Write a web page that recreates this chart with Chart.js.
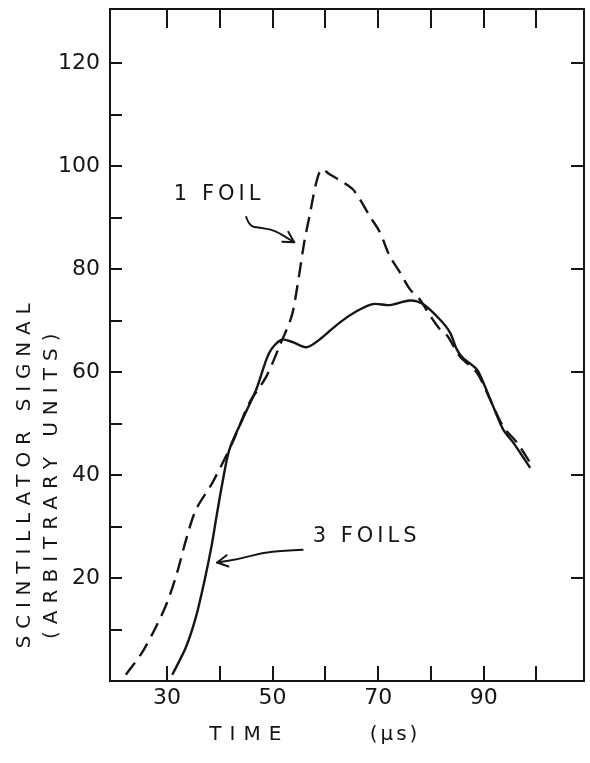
<!DOCTYPE html>
<html>
<head>
<meta charset="utf-8">
<title>Scintillator signal vs time</title>
<script src="https://cdn.jsdelivr.net/npm/chart.js@4.4.1/dist/chart.umd.min.js"></script>
<style>
  html, body { margin: 0; padding: 0; background: #fff; }
  #chart { display: block; }
</style>
</head>
<body>
<canvas id="chart" width="590" height="763"></canvas>
<script>
"use strict";

// 1 foil trace (dashed), time in microseconds
const oneFoilTime = [22.2, 25.2, 27.9, 30, 31.9, 33.6, 35.5, 38.6, 42.4, 45.6, 48.8, 51.3, 53.6, 54.7, 56, 57,
  58.3, 59.3, 60.8, 63.3, 65.2, 66.5, 68.4, 70.3, 72.2, 74.1, 76, 77.9, 79.5, 81.7, 83.2, 85.5, 88.7, 91.2, 93.7, 96.3, 98.8];
const oneFoilSignal = [1.2, 5.4, 10.5, 15.2, 21, 27.4, 33.3, 38.5, 46.3, 54, 59.1, 65, 70.8, 76.7, 85.2, 90.3,
  96.9, 99.4, 98.4, 96.9, 95.5, 93.6, 90.3, 87.2, 82.5, 79.4, 76.1, 74.1, 71.5, 68.3, 66.9, 63, 59.9, 54.7, 49.4, 46.3, 42.4];

// 3 foils trace (solid)
const threeFoilTime = [31, 33.6, 35.5, 37, 38.4, 39.5, 40.5, 41.8, 44.3, 46.9, 49.4, 51.7, 53.8, 56.4, 58.9, 62.7,
  65.9, 69, 72.2, 76, 78.5, 81.7, 83.6, 84.9, 86, 88.7, 89.9, 91.8, 93.7, 95.6, 98.8];
const threeFoilSignal = [1.2, 6.6, 12.5, 19, 26, 32.7, 38.5, 44.9, 50.8, 56.6, 63.8, 66.3, 65.8, 64.8, 66.3, 69.6,
  71.8, 73.2, 73, 73.9, 73.2, 70.2, 67.7, 64.4, 62.8, 60.5, 58, 53.3, 48.8, 46.3, 41.4];

const timeLabels = [30, 50, 70, 90];
const signalLabels = [20, 40, 60, 80, 100, 120];
const rightTicks = [20, 40, 60, 80, 100, 120];

const INK = "#151515";
const FONT = "'DejaVu Sans', sans-serif";

function toPoints(xs, ys) {
  return xs.map((x, i) => ({ x: x, y: ys[i] }));
}

// fixed box sizes, and no extra room for half-labels at the ends
function fixBox(w, h) {
  return s => {
    if (w !== null) s.width = w;
    if (h !== null) s.height = h;
    s.paddingTop = s.paddingBottom = s.paddingLeft = s.paddingRight = 0;
  };
}

function drawArrow(ctx, pts) {
  ctx.beginPath();
  ctx.moveTo(pts[0][0], pts[0][1]);
  for (let i = 1; i < pts.length - 1; i++) {
    const mx = (pts[i][0] + pts[i + 1][0]) / 2;
    const my = (pts[i][1] + pts[i + 1][1]) / 2;
    ctx.quadraticCurveTo(pts[i][0], pts[i][1], mx, my);
  }
  const last = pts[pts.length - 1];
  const prev = pts[pts.length - 2];
  ctx.lineTo(last[0], last[1]);
  ctx.stroke();
  const a = Math.atan2(last[1] - prev[1], last[0] - prev[0]);
  const L = 12;
  ctx.beginPath();
  ctx.moveTo(last[0] - L * Math.cos(a - 0.5), last[1] - L * Math.sin(a - 0.5));
  ctx.lineTo(last[0], last[1]);
  ctx.lineTo(last[0] - L * Math.cos(a + 0.5), last[1] - L * Math.sin(a + 0.5));
  ctx.stroke();
}

// labels, arrows and axis titles drawn in the lettering style of the figure
const inkPlugin = {
  id: "ink",
  afterDatasetsDraw(chart) {
    const ctx = chart.ctx;
    const xs = chart.scales.x, ys = chart.scales.y;
    const px = v => xs.getPixelForValue(v);
    const py = v => ys.getPixelForValue(v);
    ctx.save();
    ctx.fillStyle = INK;
    ctx.strokeStyle = INK;
    ctx.lineWidth = 2;
    ctx.lineCap = "round";
    ctx.lineJoin = "round";
    ctx.textBaseline = "middle";

    ctx.font = "21px " + FONT;
    ctx.letterSpacing = "4px";
    ctx.textAlign = "left";
    ctx.fillText("1 FOIL", px(31.3), py(94.4));
    ctx.fillText("3 FOILS", px(57.6), py(28));

    drawArrow(ctx, [[45.0, 90.1], [45.6, 88.3], [47.5, 88.0], [50.3, 87.6], [54.1, 85.2]].map(p => [px(p[0]), py(p[1])]));
    drawArrow(ctx, [[55.7, 25.5], [51.9, 25.3], [48.1, 24.9], [43.7, 23.7], [39.5, 23.0]].map(p => [px(p[0]), py(p[1])]));

    // y axis title, two rotated lines
    ctx.font = "20px " + FONT;
    ctx.textAlign = "center";
    ctx.save();
    ctx.translate(25, py(40.5));
    ctx.rotate(-Math.PI / 2);
    ctx.letterSpacing = "6.8px";
    ctx.fillText("SCINTILLATOR SIGNAL", 0, 0);
    ctx.restore();
    ctx.save();
    ctx.translate(52, py(38.5));
    ctx.rotate(-Math.PI / 2);
    ctx.letterSpacing = "7px";
    ctx.fillText("(ARBITRARY UNITS)", 0, 0);
    ctx.restore();

    // x axis title
    ctx.letterSpacing = "8px";
    ctx.fillText("TIME", px(45.6), 735);
    ctx.letterSpacing = "3px";
    ctx.fillText("(\u03bcs)", px(73.2), 735);
    ctx.restore();
  }
};

const tickFont = { family: FONT, size: 22 };

new Chart(document.getElementById("chart"), {
  type: "line",
  data: {
    datasets: [
      {
        label: "1 FOIL",
        data: toPoints(oneFoilTime, oneFoilSignal),
        borderColor: INK,
        borderWidth: 2.4,
        borderDash: [15, 8],
        pointRadius: 0,
        tension: 0.3,
        fill: false
      },
      {
        label: "3 FOILS",
        data: toPoints(threeFoilTime, threeFoilSignal),
        borderColor: INK,
        borderWidth: 2.4,
        pointRadius: 0,
        tension: 0.3,
        fill: false
      }
    ]
  },
  options: {
    responsive: false,
    devicePixelRatio: 1,
    animation: false,
    layout: { padding: { top: 9, right: 6, left: 0, bottom: 0 } },
    plugins: { legend: { display: false }, tooltip: { enabled: false } },
    scales: {
      x: {
        type: "linear",
        position: "bottom",
        min: 19.2,
        max: 109,
        afterFit: fixBox(null, 82),
        border: { color: INK, width: 2 },
        grid: { drawOnChartArea: false, tickLength: -15, color: INK, lineWidth: 2 },
        ticks: {
          stepSize: 10, includeBounds: false, maxTicksLimit: 20, autoSkip: false, maxRotation: 0,
          padding: 19, color: INK, font: tickFont,
          callback: v => v < 25 ? null : (timeLabels.includes(v) ? String(v) : "")
        }
      },
      x2: {
        type: "linear",
        axis: "x",
        position: "top",
        min: 19.2,
        max: 109,
        afterFit: fixBox(null, 0),
        border: { color: INK, width: 2 },
        grid: { drawOnChartArea: false, tickLength: -19, color: INK, lineWidth: 2 },
        ticks: {
          stepSize: 10, includeBounds: false, maxTicksLimit: 20, autoSkip: false, maxRotation: 0,
          callback: v => v < 25 ? null : ""
        }
      },
      y: {
        type: "linear",
        position: "left",
        min: 0,
        max: 130.5,
        afterFit: fixBox(110, null),
        border: { color: INK, width: 2 },
        grid: { drawOnChartArea: false, tickLength: -12, color: INK, lineWidth: 2 },
        ticks: {
          stepSize: 10, includeBounds: false, maxTicksLimit: 20, autoSkip: false,
          padding: 22, color: INK, font: tickFont,
          callback: v => (v <= 0 || v > 125) ? null : (signalLabels.includes(v) ? String(v) : "")
        }
      },
      y2: {
        type: "linear",
        axis: "y",
        position: "right",
        min: 0,
        max: 130.5,
        afterFit: fixBox(0, null),
        border: { color: INK, width: 2 },
        grid: { drawOnChartArea: false, tickLength: -13, color: INK, lineWidth: 2 },
        ticks: {
          stepSize: 10, includeBounds: false, maxTicksLimit: 20, autoSkip: false,
          callback: v => rightTicks.includes(v) ? "" : null
        }
      }
    }
  },
  plugins: [inkPlugin]
});
</script>
</body>
</html>
